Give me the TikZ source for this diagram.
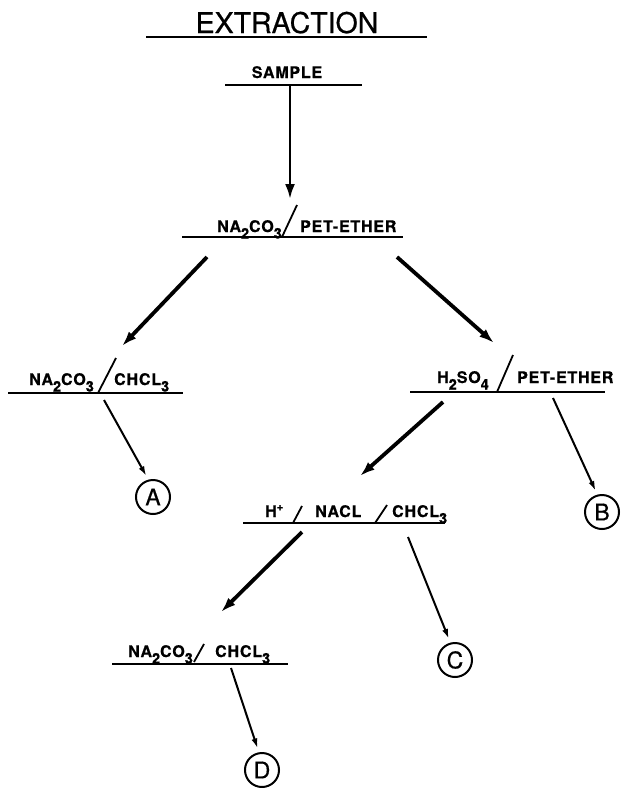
\documentclass[tikz,border=0pt]{standalone}
\usepackage{fontspec}
\setmainfont{TeX Gyre Heros}
\newfontfamily\labfont[LetterSpace=5,BoldFeatures={FakeBold=0.7}]{TeX Gyre Heros}
\newfontfamily\titlefont[FakeBold=0.6]{TeX Gyre Heros}
\usetikzlibrary{arrows.meta}
\newcommand\dn[1]{\raisebox{-6.5pt}{\fontsize{14.5}{14}\selectfont #1}}
\newcommand\upx[1]{\raisebox{6.5pt}{\fontsize{11}{11}\selectfont #1}}
\begin{document}
\begin{tikzpicture}[x=1pt,y=-1pt,
  lab/.style={font=\labfont\bfseries\fontsize{16}{18}\selectfont, inner sep=0pt, anchor=base west},
  uline/.style={line width=2.1pt},
  slash/.style={line width=1.8pt},
  bigarrow/.style={line width=3.8pt, -{Latex[length=15pt,width=10pt]}},
  smallarrow/.style={line width=2pt, -{Latex[length=10pt,width=6pt]}},
  circ/.style={circle, draw, line width=2pt, minimum size=34pt, inner sep=0pt, font=\titlefont\fontsize{23}{23}\selectfont}]
\useasboundingbox (0,0) rectangle (623,788);
% title
\node[anchor=base, inner sep=0pt, font=\titlefont\fontsize{28.5}{30}\selectfont] (title) at (287,33) {EXTRACTION};
\draw[uline] (146,37) -- (427,37);
% sample
\node[lab, anchor=base] (sample) at (287,78) {SAMPLE};
\draw[uline] (225,85) -- (362,85);
% top node
\node[lab] (t1) at (217,232) {NA\dn{2}CO\dn{3}};
\node[lab] (t2) at (300,232) {PET-ETHER};
\draw[slash] (282,237) -- (297,205);
\draw[uline] (182,237) -- (403,237);
% left node
\node[lab] (l1) at (29,385) {NA\dn{2}CO\dn{3}};
\node[lab] (l2) at (114,385) {CHCL\dn{3}};
\draw[slash] (98,393) -- (116,358);
\draw[uline] (8,393) -- (183,393);
% right node
\node[lab] (r1) at (437,383) {H\dn{2}SO\dn{4}};
\node[lab] (r2) at (517,383) {PET-ETHER};
\draw[slash] (497,392) -- (513,355);
\draw[uline] (410,392) -- (605,392);
% H+ node
\node[lab] (h1) at (265,517) {H\upx{+}};
\node[lab] (h2) at (315,517) {NACL};
\node[lab] (h3) at (392,517) {CHCL\dn{3}};
\draw[slash] (293,523) -- (302,506);
\draw[slash] (375,523) -- (387,505);
\draw[uline] (243,523) -- (445,523);
% bottom node
\node[lab] (b1) at (128,657) {NA\dn{2}CO\dn{3}};
\node[lab] (b2) at (215,657) {CHCL\dn{3}};
\draw[slash] (194,662) -- (204,644);
\draw[uline] (112,664) -- (288,664);
% circles
\node[circ] (A) at (153,497) {A};
\node[circ] (B) at (602,512) {B};
\node[circ] (C) at (455,660) {C};
\node[circ] (D) at (262,770) {D};
% arrow coordinates
\coordinate (s0) at (290,86);
\coordinate (e0) at (290,199);
\coordinate (s1) at (207,257);
\coordinate (e1) at (122,346);
\coordinate (s2) at (397,257);
\coordinate (e2) at (494,343);
\coordinate (s3) at (443,402);
\coordinate (e3) at (360,476);
\coordinate (s4) at (302,532);
\coordinate (e4) at (221,612);
\coordinate (sA) at (104,400);
\coordinate (sB) at (553,398);
\coordinate (sC) at (408,537);
\coordinate (sD) at (231,668);
% arrows
\draw[bigarrow, line width=2.6pt] (s0) -- (e0);
\draw[bigarrow] (s1) -- (e1);
\draw[bigarrow] (s2) -- (e2);
\draw[bigarrow] (s3) -- (e3);
\draw[bigarrow] (s4) -- (e4);
\draw[smallarrow, shorten >=4pt] (sA) -- (A.105);
\draw[smallarrow, shorten >=4pt] (sB) -- (B.105);
\draw[smallarrow, shorten >=4pt] (sC) -- (C.105);
\draw[smallarrow, shorten >=4pt] (sD) -- (D.100);
\end{tikzpicture}
\end{document}
